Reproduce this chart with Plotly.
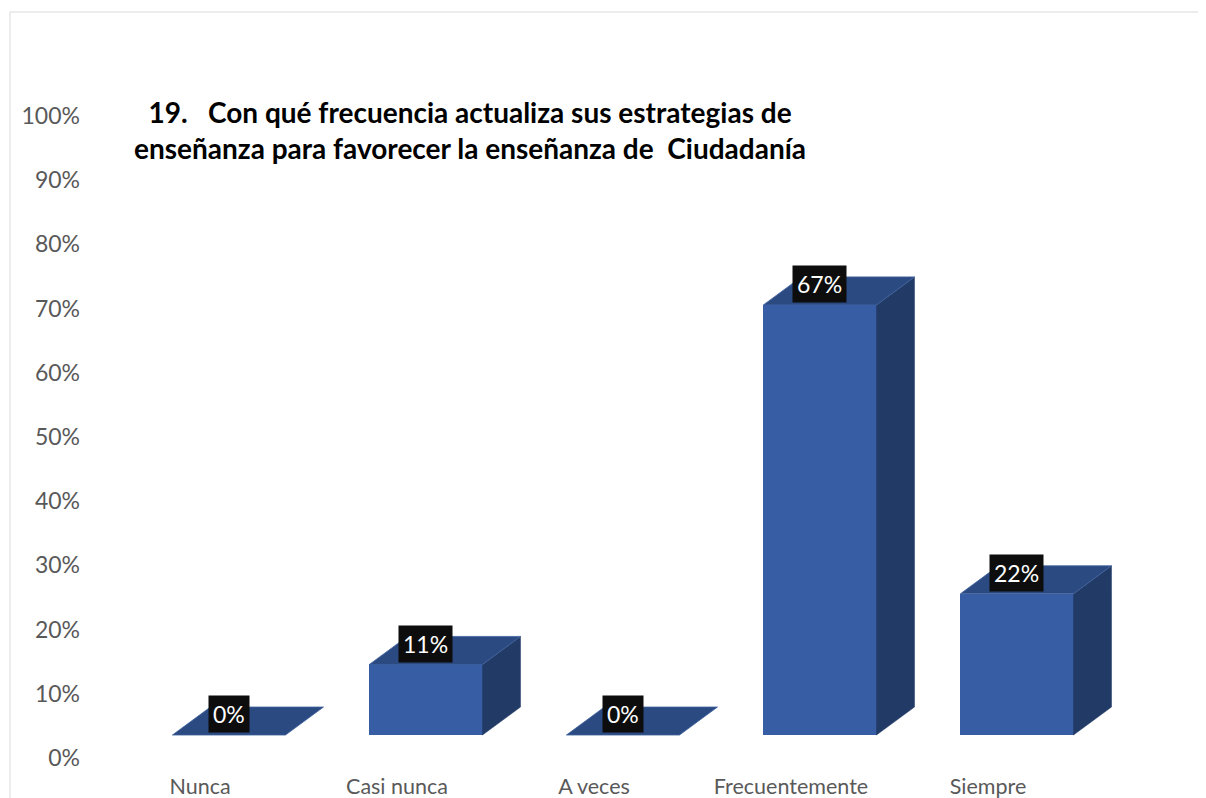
import plotly.graph_objects as go

categories = ["Nunca", "Casi nunca", "A veces", "Frecuentemente", "Siempre"]
values = [0, 11, 0, 67, 22]
value_labels = ["0%", "11%", "0%", "67%", "22%"]
y_ticks = [0, 10, 20, 30, 40, 50, 60, 70, 80, 90, 100]
y_tick_labels = [f"{t}%" for t in y_ticks]
title_text = "19.   Con qué frecuencia actualiza sus estrategias de<br>enseñanza para favorecer la enseñanza de  Ciudadanía"

# 3D look parameters (in axis units)
BASE = 3.58      # floor height of front faces
OFF = 0.147      # front face center offset from category tick
HALF = 0.287     # half width of front face
DX = 0.193       # depth shift in x
DY = 4.36        # depth shift in y

FRONT = "#375EA5"
TOP = "#2B4A81"
SIDE = "#223B66"

FONT = "Lato, Carlito, sans-serif"

# page body margin compensation
S = 8
X_CAT0 = 200 - S     # pixel of first category label center
X_STEP = 197.0
Y_ZERO = 758 - S     # pixel of 0%
Y_PER = 6.42         # pixels per 1%

fig = go.Figure()
xs = list(range(len(categories)))

for i, v in zip(xs, values):
    x0 = i + OFF - HALF
    x1 = i + OFF + HALF
    y0 = BASE
    y1 = BASE + v
    if v > 0:
        fig.add_trace(go.Scatter(
            x=[x1, x1 + DX, x1 + DX, x1, x1],
            y=[y0, y0 + DY, y1 + DY, y1, y0],
            fill="toself", fillcolor=SIDE, mode="lines",
            line=dict(color=SIDE, width=0.5), hoverinfo="skip", showlegend=False))
    fig.add_trace(go.Scatter(
        x=[x0, x1, x1 + DX, x0 + DX, x0],
        y=[y1, y1, y1 + DY, y1 + DY, y1],
        fill="toself", fillcolor=TOP, mode="lines",
        line=dict(color="#3F62A0", width=0.8), hoverinfo="skip", showlegend=False))

fig.add_trace(go.Bar(
    x=[i + OFF for i in xs], y=values, base=[BASE] * len(values),
    width=2 * HALF, marker=dict(color=FRONT, line=dict(width=0)),
    hoverinfo="skip", showlegend=False))

for i, v, lab in zip(xs, values, value_labels):
    fig.add_annotation(
        x=i + OFF, y=BASE + v + 3.2, text=lab, showarrow=False,
        font=dict(family=FONT, size=23, color="white"),
        bgcolor="#0D0D0D", borderpad=4, xanchor="center", yanchor="middle")

W, H = 1206, 798
ML, MR, MT, MB = 73, 20, 92, 35
PW = W - ML - MR
PH = H - MT - MB

def px_to_paper_x(p):
    return (p - ML) / PW

def px_to_paper_y(p):
    return (H - MB - p) / PH

fig.add_annotation(
    x=px_to_paper_x(470 - S), y=px_to_paper_y(130 - S), xref="paper", yref="paper",
    text="<b>" + title_text + "</b>", showarrow=False, align="center",
    font=dict(family=FONT, size=28, color="#000000"),
    xanchor="center", yanchor="middle")

fig.add_shape(type="line", xref="paper", yref="paper",
              x0=px_to_paper_x(10 - S), x1=px_to_paper_x(1220),
              y0=px_to_paper_y(12 - S), y1=px_to_paper_y(12 - S),
              line=dict(color="#D9D9D9", width=1))
fig.add_shape(type="line", xref="paper", yref="paper",
              x0=px_to_paper_x(10 - S), x1=px_to_paper_x(10 - S),
              y0=px_to_paper_y(12 - S), y1=px_to_paper_y(810),
              line=dict(color="#D9D9D9", width=1))

fig.update_layout(
    width=W, height=H,
    margin=dict(l=ML, r=MR, t=MT, b=MB),
    paper_bgcolor="white", plot_bgcolor="white",
    bargap=0,
    xaxis=dict(
        range=[(ML - X_CAT0) / X_STEP, (W - MR - X_CAT0) / X_STEP],
        tickmode="array", tickvals=xs, ticktext=categories,
        showgrid=False, zeroline=False, showline=False, ticks="",
        tickfont=dict(family=FONT, size=21.5, color="#595959"),
        automargin=False, fixedrange=True),
    yaxis=dict(
        range=[(Y_ZERO - (H - MB)) / Y_PER, (Y_ZERO - MT) / Y_PER],
        tickmode="array", tickvals=y_ticks, ticktext=y_tick_labels,
        showgrid=False, zeroline=False, showline=False, ticks="",
        tickfont=dict(family=FONT, size=23, color="#595959"),
        automargin=False, fixedrange=True),
)

fig.write_html("out.html")
